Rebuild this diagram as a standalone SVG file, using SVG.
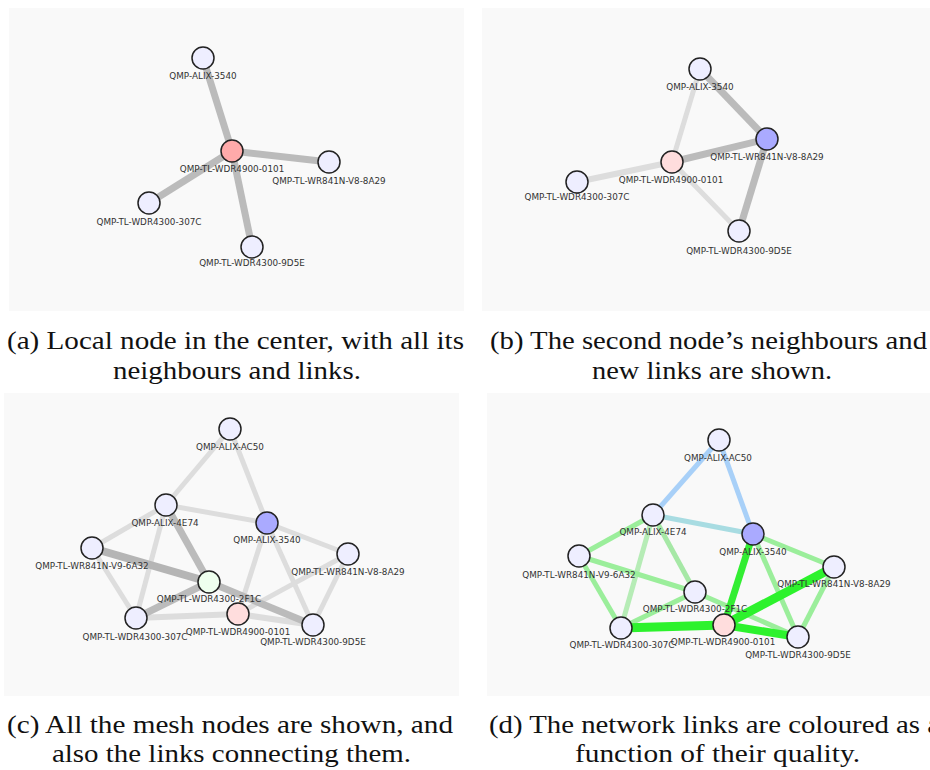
<svg xmlns="http://www.w3.org/2000/svg" width="930" height="770" viewBox="0 0 930 770">
<style>
.bg{fill:#f9f9f9}
.e{fill:none;stroke-linecap:butt}
.tk{stroke:#bbbbbb;stroke-width:7}
.lt{stroke:#dddddd;stroke-width:5}
.bl{stroke:#a8d0f8;stroke-width:5}
.tl{stroke:#a8dce2;stroke-width:5}
.lg{stroke:#9bee9b;stroke-width:5}
.pg{stroke:#b6ecb6;stroke-width:5}
.bg9{stroke:#2df22d;stroke-width:9}
.bg7{stroke:#33ee33;stroke-width:7}
.nd circle{stroke:#222;stroke-width:1.5;fill:#eeeeff}
.nd.loc circle{fill:#ffaaaa}
.nd.loc2 circle{fill:#ffdddd}
.nd.sel circle{fill:#aaaaff}
.nd.grn circle{fill:#eeffee}
.lbl{font-family:"DejaVu Sans",sans-serif;font-size:8.8px;fill:#333;text-anchor:middle}
.cap{font-family:"Liberation Serif","Times New Roman",serif;font-size:25px;fill:#111}
</style>
<rect width="930" height="770" fill="#ffffff"/>
<!-- Panel backgrounds -->
<rect class="bg" x="9" y="8" width="455" height="303"/>
<rect class="bg" x="482" y="8" width="448" height="303"/>
<rect class="bg" x="4" y="393" width="455" height="303"/>
<rect class="bg" x="487" y="393" width="443" height="303"/>

<!-- Panel (a) -->
<g id="a-connectors">
<line class="e tk" x1="232" y1="151" x2="203" y2="58"/>
<line class="e tk" x1="232" y1="151" x2="329" y2="162"/>
<line class="e tk" x1="232" y1="151" x2="149" y2="203"/>
<line class="e tk" x1="232" y1="151" x2="252" y2="247"/>
</g>
<g id="a-ALIX-3540" class="nd"><circle cx="203" cy="58" r="11"/><text class="lbl" x="203" y="79">QMP-ALIX-3540</text></g>
<g id="a-WDR4900-0101" class="nd loc"><circle cx="232" cy="151" r="11"/><text class="lbl" x="232" y="172">QMP-TL-WDR4900-0101</text></g>
<g id="a-WR841N-V8-8A29" class="nd"><circle cx="329" cy="162" r="11"/><text class="lbl" x="329" y="184">QMP-TL-WR841N-V8-8A29</text></g>
<g id="a-WDR4300-307C" class="nd"><circle cx="149" cy="203" r="11"/><text class="lbl" x="149" y="225">QMP-TL-WDR4300-307C</text></g>
<g id="a-WDR4300-9D5E" class="nd"><circle cx="252" cy="247" r="11"/><text class="lbl" x="252" y="266">QMP-TL-WDR4300-9D5E</text></g>

<!-- Panel (b) -->
<g id="b-connectors">
<line class="e lt" x1="700" y1="69" x2="672" y2="162"/>
<line class="e lt" x1="672" y1="162" x2="577" y2="182" style="stroke-width:6"/>
<line class="e lt" x1="672" y1="162" x2="739" y2="231"/>
<line class="e tk" x1="700" y1="69" x2="767" y2="139"/>
<line class="e tk" x1="767" y1="139" x2="672" y2="162"/>
<line class="e tk" x1="767" y1="139" x2="739" y2="231"/>
</g>
<g id="b-ALIX-3540" class="nd"><circle cx="700" cy="69" r="11"/><text class="lbl" x="700" y="90">QMP-ALIX-3540</text></g>
<g id="b-WR841N-V8-8A29" class="nd sel"><circle cx="767" cy="139" r="11"/><text class="lbl" x="767" y="160">QMP-TL-WR841N-V8-8A29</text></g>
<g id="b-WDR4900-0101" class="nd loc2"><circle cx="672" cy="162" r="11"/><text class="lbl" x="671" y="183">QMP-TL-WDR4900-0101</text></g>
<g id="b-WDR4300-307C" class="nd"><circle cx="577" cy="182" r="11"/><text class="lbl" x="577" y="200">QMP-TL-WDR4300-307C</text></g>
<g id="b-WDR4300-9D5E" class="nd"><circle cx="739" cy="231" r="11"/><text class="lbl" x="739" y="254">QMP-TL-WDR4300-9D5E</text></g>

<!-- Panel (c) -->
<g id="c-connectors">
<line class="e lt" x1="230" y1="429" x2="166" y2="505"/>
<line class="e lt" x1="230" y1="429" x2="267" y2="523"/>
<line class="e lt" x1="166" y1="505" x2="267" y2="523"/>
<line class="e lt" x1="166" y1="505" x2="92" y2="548"/>
<line class="e lt" x1="166" y1="505" x2="136" y2="618"/>
<line class="e lt" x1="92" y1="548" x2="136" y2="618"/>
<line class="e lt" x1="136" y1="618" x2="238" y2="614" style="stroke-width:6"/>
<line class="e lt" x1="238" y1="614" x2="313" y2="625" style="stroke-width:6"/>
<line class="e lt" x1="267" y1="523" x2="348" y2="554"/>
<line class="e lt" x1="267" y1="523" x2="313" y2="625"/>
<line class="e lt" x1="267" y1="523" x2="238" y2="614"/>
<line class="e lt" x1="348" y1="554" x2="238" y2="614"/>
<line class="e lt" x1="348" y1="554" x2="313" y2="625"/>
<line class="e tk" x1="166" y1="505" x2="209" y2="582"/>
<line class="e tk" x1="92" y1="548" x2="209" y2="582" style="stroke:#b5b5b5;stroke-width:8"/>
<line class="e tk" x1="209" y1="582" x2="136" y2="618"/>
<line class="e tk" x1="209" y1="582" x2="313" y2="625"/>
</g>
<g id="c-ALIX-AC50" class="nd"><circle cx="230" cy="429" r="11"/><text class="lbl" x="230" y="450">QMP-ALIX-AC50</text></g>
<g id="c-ALIX-4E74" class="nd"><circle cx="166" cy="505" r="11"/><text class="lbl" x="165" y="526">QMP-ALIX-4E74</text></g>
<g id="c-WR841N-V9-6A32" class="nd"><circle cx="92" cy="548" r="11"/><text class="lbl" x="92" y="569">QMP-TL-WR841N-V9-6A32</text></g>
<g id="c-ALIX-3540" class="nd sel"><circle cx="267" cy="523" r="11"/><text class="lbl" x="267" y="543">QMP-ALIX-3540</text></g>
<g id="c-WR841N-V8-8A29" class="nd"><circle cx="348" cy="554" r="11"/><text class="lbl" x="348" y="575">QMP-TL-WR841N-V8-8A29</text></g>
<g id="c-WDR4300-2F1C" class="nd grn"><circle cx="209" cy="582" r="11"/><text class="lbl" x="209" y="602">QMP-TL-WDR4300-2F1C</text></g>
<g id="c-WDR4300-307C" class="nd"><circle cx="136" cy="618" r="11"/><text class="lbl" x="135" y="640">QMP-TL-WDR4300-307C</text></g>
<g id="c-WDR4900-0101" class="nd loc2"><circle cx="238" cy="614" r="11"/><text class="lbl" x="238" y="635">QMP-TL-WDR4900-0101</text></g>
<g id="c-WDR4300-9D5E" class="nd"><circle cx="313" cy="625" r="11"/><text class="lbl" x="313" y="645">QMP-TL-WDR4300-9D5E</text></g>

<!-- Panel (d) -->
<g id="d-connectors">
<line class="e bl" x1="719" y1="440" x2="653" y2="515"/>
<line class="e bl" x1="719" y1="440" x2="753" y2="534"/>
<line class="e tl" x1="653" y1="515" x2="753" y2="534"/>
<line class="e lg" x1="653" y1="515" x2="579" y2="556"/>
<line class="e pg" x1="653" y1="515" x2="621" y2="628"/>
<line class="e lg" x1="653" y1="515" x2="695" y2="592" style="stroke:#a6e8a6"/>
<line class="e lg" x1="579" y1="556" x2="695" y2="592"/>
<line class="e lg" x1="579" y1="556" x2="621" y2="628"/>
<line class="e lg" x1="695" y1="592" x2="621" y2="628"/>
<line class="e lg" x1="695" y1="592" x2="798" y2="637"/>
<line class="e lg" x1="753" y1="534" x2="834" y2="567"/>
<line class="e lg" x1="753" y1="534" x2="798" y2="637"/>
<line class="e lg" x1="834" y1="567" x2="798" y2="637"/>
<line class="e bg9" x1="621" y1="628" x2="724" y2="625"/>
<line class="e bg7" x1="724" y1="625" x2="753" y2="534"/>
<line class="e bg9" x1="724" y1="625" x2="834" y2="567"/>
<line class="e bg9" x1="724" y1="625" x2="798" y2="637" style="stroke-width:8"/>
</g>
<g id="d-ALIX-AC50" class="nd"><circle cx="719" cy="440" r="11"/><text class="lbl" x="718" y="461">QMP-ALIX-AC50</text></g>
<g id="d-ALIX-4E74" class="nd"><circle cx="653" cy="515" r="11"/><text class="lbl" x="653" y="535">QMP-ALIX-4E74</text></g>
<g id="d-WR841N-V9-6A32" class="nd"><circle cx="579" cy="556" r="11"/><text class="lbl" x="579" y="578">QMP-TL-WR841N-V9-6A32</text></g>
<g id="d-ALIX-3540" class="nd sel"><circle cx="753" cy="534" r="11"/><text class="lbl" x="753" y="555">QMP-ALIX-3540</text></g>
<g id="d-WR841N-V8-8A29" class="nd"><circle cx="834" cy="567" r="11"/><text class="lbl" x="834" y="587">QMP-TL-WR841N-V8-8A29</text></g>
<g id="d-WDR4300-2F1C" class="nd"><circle cx="695" cy="592" r="11"/><text class="lbl" x="695" y="612">QMP-TL-WDR4300-2F1C</text></g>
<g id="d-WDR4300-307C" class="nd"><circle cx="621" cy="628" r="11"/><text class="lbl" x="622" y="648">QMP-TL-WDR4300-307C</text></g>
<g id="d-WDR4900-0101" class="nd loc2"><circle cx="724" cy="625" r="11"/><text class="lbl" x="723" y="645">QMP-TL-WDR4900-0101</text></g>
<g id="d-WDR4300-9D5E" class="nd"><circle cx="798" cy="637" r="11"/><text class="lbl" x="798" y="658">QMP-TL-WDR4300-9D5E</text></g>

<!-- Captions -->
<g id="captions">
<text class="cap" x="7" y="349" textLength="457" lengthAdjust="spacingAndGlyphs">(a) Local node in the center, with all its</text>
<text class="cap" x="113" y="379" textLength="248" lengthAdjust="spacingAndGlyphs">neighbours and links.</text>
<text class="cap" x="490" y="349" textLength="437" lengthAdjust="spacingAndGlyphs">(b) The second node’s neighbours and</text>
<text class="cap" x="592" y="379" textLength="240" lengthAdjust="spacingAndGlyphs">new links are shown.</text>
<text class="cap" x="7" y="733" textLength="446" lengthAdjust="spacingAndGlyphs">(c) All the mesh nodes are shown, and</text>
<text class="cap" x="52" y="762" textLength="359" lengthAdjust="spacingAndGlyphs">also the links connecting them.</text>
<text class="cap" x="489" y="733" textLength="451" lengthAdjust="spacingAndGlyphs">(d) The network links are coloured as a</text>
<text class="cap" x="575" y="762" textLength="285" lengthAdjust="spacingAndGlyphs">function of their quality.</text>
</g>
</svg>
